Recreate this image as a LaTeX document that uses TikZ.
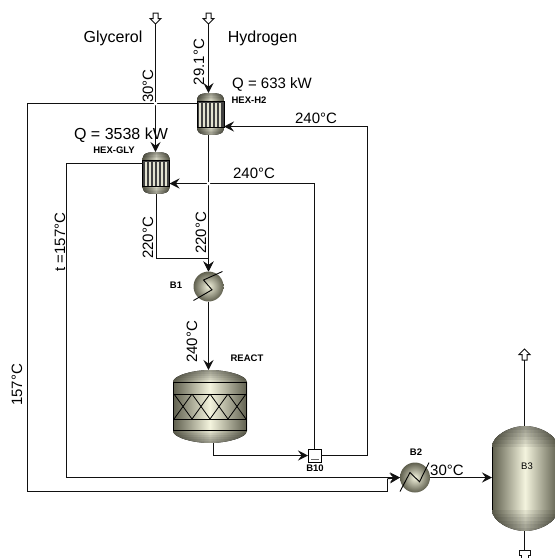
\documentclass[tikz,border=0pt]{standalone}
\usepackage{fontspec}
\setmainfont{Liberation Sans}
\usetikzlibrary{arrows.meta,calc}
\definecolor{strm}{HTML}{111111}
\definecolor{vdark}{HTML}{5F5F4E}
\definecolor{vlight}{HTML}{F4F4DE}
\tikzset{
  stream/.style={draw=strm,line width=1.4pt},
  flow/.style={stream,-{Stealth[length=10pt,width=10pt,inset=3.6pt]}},
  vesselfill/.style={left color=vdark,right color=vdark,middle color=vlight},
  anchorbox/.style={inner sep=0pt,outer sep=0pt,draw=none},
  lbl/.style={inner sep=0pt,font=\fontsize{15}{15}\selectfont,text=black},
  tag/.style={inner sep=0pt,font=\fontsize{9.5}{9.5}\selectfont\bfseries,text=black},
  gapdot/.style={circle,fill=white,inner sep=0pt,minimum size=3.5pt},
  openarrow/.style={draw=strm,fill=white,line width=1pt},
}
% vessel body: x1,x2,y1,y2,dome height
\newcommand{\vessel}[5]{%
  \begin{scope}
  \clip (#1,#3+#5) .. controls (#1,#3+0.45*#5) and ({#1+0.28*(#2-#1)},#3) .. ({(#1+#2)/2},#3)
     .. controls ({#2-0.28*(#2-#1)},#3) and (#2,#3+0.45*#5) .. (#2,#3+#5) -- (#2,#4-#5)
     .. controls (#2,#4-0.45*#5) and ({#2-0.28*(#2-#1)},#4) .. ({(#1+#2)/2},#4)
     .. controls ({#1+0.28*(#2-#1)},#4) and (#1,#4-0.45*#5) .. (#1,#4-#5) -- cycle;
  \fill[vesselfill] (#1,#3) rectangle (#2,#4);
  \foreach \s in {1,...,6} {
    \fill[black,opacity=0.07] (#1,#3) rectangle (#2,{#3+#5*\s/6});
    \fill[black,opacity=0.07] (#1,#4) rectangle (#2,{#4-#5*\s/6});
  }
  \end{scope}
}
\newcommand{\hexunit}[3]{% name, cx, cy of top
  \node[anchorbox,rectangle,minimum width=27pt,minimum height=42pt] (#1) at (#2,#3+21) {};
  \vessel{#2-13.5}{#2+13.5}{#3}{#3+42}{9}
  \fill[black!75] (#2-13.5,#3+8) rectangle (#2+13.5,#3+35);
  \foreach \k in {0,...,5} {\fill[vlight!85!gray] (#2-11.4+\k*4,#3+9.5) rectangle (#2-9.4+\k*4,#3+33.5);}
  \draw[black,line width=1pt] (#2-13.5,#3+8.5) rectangle (#2+13.5,#3+34.5);
}
\newcommand{\heater}[7]{% name, cx, cy, then zigzag offsets
  \node[circle,anchorbox,minimum size=30pt,inner color=vlight,outer color=vdark] (#1) at (#2,#3) {};
  \draw[black,line width=0.9pt] (#2-15,#3+14) -- (#2+#4,#3+#5) -- (#2+#6,#3+#7) -- (#2+14,#3-15);
}
\newcommand{\feeddown}[3]{% name, cx, top y
  \path[openarrow] (#2-2.5,#3) -- (#2+2.5,#3) -- (#2+2.5,#3+5.5) -- (#2+5.5,#3+5.5) -- (#2,#3+11) -- (#2-5.5,#3+5.5) -- (#2-2.5,#3+5.5) -- cycle;
  \coordinate (#1) at (#2,#3+11);
}
\newcommand{\produp}[3]{% name, cx, tip y
  \path[openarrow] (#2,#3) -- (#2+5.5,#3+5.5) -- (#2+2.5,#3+5.5) -- (#2+2.5,#3+11) -- (#2-2.5,#3+11) -- (#2-2.5,#3+5.5) -- (#2-5.5,#3+5.5) -- cycle;
  \coordinate (#1) at (#2,#3+11);
}
\begin{document}
\begin{tikzpicture}[x=1pt,y=-1pt]
\useasboundingbox (0,0) rectangle (555,558);
% feeds & products
\feeddown{feedg}{155.5}{13}
\feeddown{feedh}{208.5}{13}
\produp{prodv}{524.5}{349}
\path[openarrow] (521,559) -- (521,555.5) -- (519,555.5) -- (519,550) -- (530,550) -- (530,555.5) -- (528,555.5) -- (528,559);
\coordinate (prodl) at (524.5,550);
% units
\hexunit{hexh}{210.5}{93}
\hexunit{hexg}{156}{152}
\heater{bone}{208.5}{286.5}{3.5}{3.3}{-5}{-6.5}
\heater{btwo}{415}{477.5}{-5}{-5}{4.5}{4.3}
% reactor
\node[anchorbox,rectangle,minimum width=74pt,minimum height=73pt] (react) at (210,406.5) {};
\vessel{173}{247}{370}{443}{12}
\draw[black,line width=1pt] (173,382.5) -- (247,382.5) (173,394.5) -- (247,394.5) (173,419.5) -- (247,419.5) (173,430.5) -- (247,430.5) (173.5,382) -- (173.5,431) (246.5,382) -- (246.5,431);
\foreach \k in {0,...,3} {
  \draw[black,line width=0.8pt] (174+\k*18,394) -- (192+\k*18,419) (192+\k*18,394) -- (174+\k*18,419);
}
% flash drum
\node[anchorbox,rectangle,minimum width=66pt,minimum height=105pt] (flash) at (525,478.5) {};
\vessel{492}{558}{426}{531}{21}
\draw[black,line width=1.1pt] (492.5,447) -- (492.5,510);
% splitter box
\node[anchorbox,rectangle,draw=black,fill=white,line width=0.9pt,minimum size=13pt] (bten) at (314.5,455.5) {};
\fill[black!60] (310.5,458.5) rectangle (318.5,460);
% port coordinates
\coordinate (hhout) at (197,103.5);
\coordinate (hgout) at (142.5,163.5);
\coordinate (hhin) at (224,126.5);
\coordinate (hgin) at (169.5,183.5);
% streams
\draw[flow] (feedg) -- (155.5,152);
\draw[flow] (feedh) -- (208.5,93);
\draw[stream] (hhout) -- (27.5,103.5) -- (27.5,491.5) -- (387.5,491.5) -- (387.5,478.5);
\draw[flow] (387.5,478.5) -- (btwo.west);
\draw[flow] (hgout) -- (66.5,163.5) -- (66.5,477.5) -- (btwo.west);
\draw[flow] (bten.east) -- (367.5,455.5) -- (367.5,126.5) -- (hhin);
\draw[flow] (bten.north) -- (314.5,183.5) -- (hgin);
\draw[flow] (208.5,135) -- (bone.north);
\draw[flow] (156.5,194) -- (156.5,258.5) -- (208.5,258.5) -- (bone.north);
\draw[flow] (bone.south) -- (208.5,370);
\draw[flow] (213.5,443) -- (213.5,455.5) -- (bten.west);
\draw[flow] (btwo.east) -- (flash.west |- btwo.east);
\draw[stream] (prodv) -- (524.5,426);
\draw[stream] (524.5,531) -- (prodl);
\node[gapdot] (xa) at (155.5,103.5) {};
\node[gapdot] (xb) at (208.5,183.5) {};
% labels
\node[lbl,font=\fontsize{16}{16}\selectfont] (t1) at (113,38) {Glycerol};
\node[lbl,font=\fontsize{16}{16}\selectfont] (t2) at (262.5,38) {Hydrogen};
\node[lbl,rotate=90] (t3) at (148,86) {30°C};
\node[lbl,rotate=90] (t4) at (199,62) {29.1°C};
\node[lbl] (t5) at (272,84) {Q = 633 kW};
\node[tag] (t6) at (249,100) {HEX-H2};
\node[lbl,font=\fontsize{16}{16}\selectfont] (t7) at (121,135) {Q = 3538 kW};
\node[tag] (t8) at (114,150) {HEX-GLY};
\node[lbl] (t9) at (316,118) {240°C};
\node[lbl] (t10) at (254,173) {240°C};
\node[lbl,rotate=90] (t11) at (60,242) {t =157°C};
\node[lbl,rotate=90] (t12) at (148,238) {220°C};
\node[lbl,rotate=90] (t13) at (201,233) {220°C};
\node[tag] (t14) at (176,285) {B1};
\node[lbl,rotate=90] (t15) at (192,342) {240°C};
\node[tag] (t16) at (247,358) {REACT};
\node[lbl,rotate=90] (t17) at (17,385) {157°C};
\node[tag] (t18) at (315,468) {B10};
\node[tag] (t19) at (416,452) {B2};
\node[lbl] (t20) at (447,470) {30°C};
\node[inner sep=0pt,font=\fontsize{9.5}{9.5}\selectfont,text=black] (t21) at (527,466) {B3};
\end{tikzpicture}
\end{document}
